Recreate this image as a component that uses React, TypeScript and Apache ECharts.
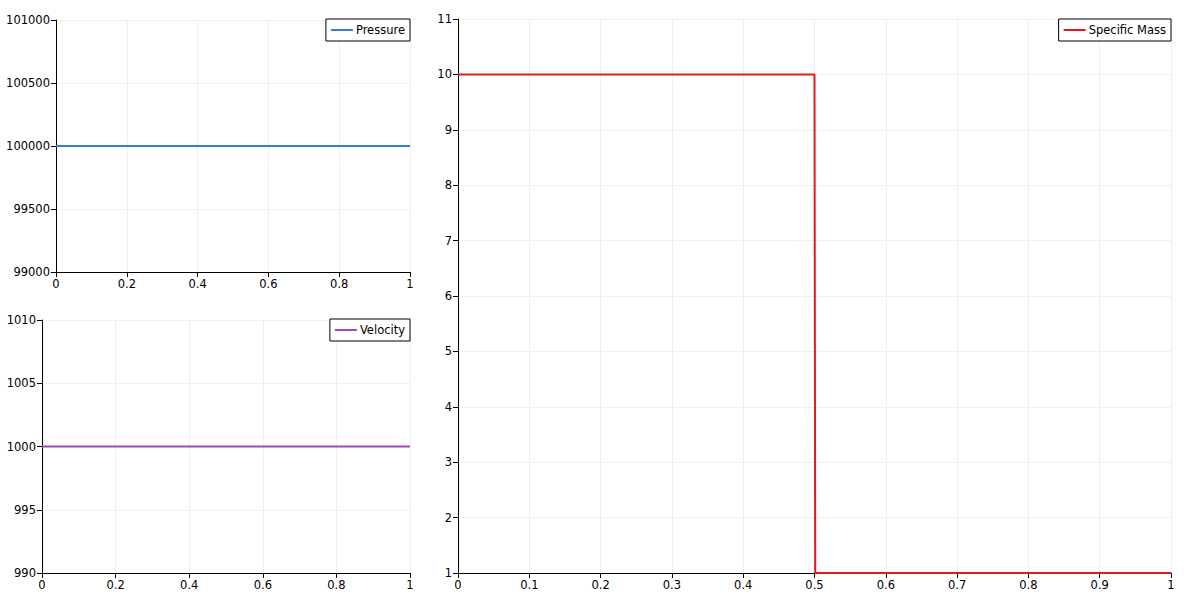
import React, { useEffect, useRef } from "react";
import * as echarts from "echarts";

const positions = [0, 0.5, 0.501, 1];
const pressure = [100000, 100000, 100000, 100000];
const velocity = [1000, 1000, 1000, 1000];
const specificMass = [10, 10, 1, 1];

const FONT = "DejaVu Sans";
const FS = 11.5;

function axisX(gridIndex: number, interval: number) {
  return {
    type: "value",
    gridIndex,
    min: 0,
    max: 1,
    interval,
    axisLine: { show: true, onZero: false, lineStyle: { color: "#000", width: 1 } },
    axisTick: { show: true, length: 5, lineStyle: { color: "#000" } },
    axisLabel: {
      color: "#000",
      fontFamily: FONT,
      fontSize: FS,
      margin: 6,
      showMaxLabel: true,
      showMinLabel: true,
      formatter: (v: number) => String(Math.round(v * 10) / 10),
    },
    splitLine: { show: true, lineStyle: { color: "#efefef", width: 1 } },
  };
}

function axisY(gridIndex: number, min: number, max: number, interval: number) {
  return {
    type: "value",
    gridIndex,
    min,
    max,
    interval,
    axisLine: { show: true, onZero: false, lineStyle: { color: "#000", width: 1 } },
    axisTick: { show: true, length: 5, lineStyle: { color: "#000" } },
    axisLabel: {
      color: "#000",
      fontFamily: FONT,
      fontSize: FS,
      margin: 6,
      formatter: (v: number) => String(v),
    },
    splitLine: { show: true, lineStyle: { color: "#efefef", width: 1 } },
  };
}

function legend(name: string, right: number, top: number) {
  return {
    data: [name],
    right,
    top,
    orient: "horizontal",
    icon: "rect",
    itemWidth: 22,
    itemHeight: 2,
    itemGap: 4,
    padding: [5, 5, 5, 5],
    borderColor: "#000",
    borderWidth: 1,
    borderRadius: 0,
    backgroundColor: "#fff",
    selectedMode: false,
    textStyle: { color: "#000", fontFamily: FONT, fontSize: FS, padding: [0, 0, 0, -2] },
  };
}

export default function App() {
  const ref = useRef<HTMLDivElement>(null);
  useEffect(() => {
    if (!ref.current) return;
    const chart = echarts.init(ref.current, undefined, { renderer: "svg" });
    const pts = (ys: number[]) => positions.map((x, i) => [x, ys[i]]);
    chart.setOption({
      animation: false,
      backgroundColor: "#fff",
      grid: [
        { left: 56, top: 20, width: 354, height: 252 },
        { left: 42, top: 320, width: 368, height: 253 },
        { left: 458, top: 19, width: 713, height: 554 },
      ],
      xAxis: [axisX(0, 0.2), axisX(1, 0.2), axisX(2, 0.1)],
      yAxis: [
        axisY(0, 99000, 101000, 500),
        axisY(1, 990, 1010, 5),
        axisY(2, 1, 11, 1),
      ],
      legend: [
        legend("Pressure", 1191 - 410, 19),
        legend("Velocity", 1191 - 410, 319),
        legend("Specific Mass", 1191 - 1171, 19),
      ],
      series: [
        {
          name: "Pressure",
          type: "line",
          xAxisIndex: 0,
          yAxisIndex: 0,
          data: pts(pressure),
          showSymbol: false,
          symbol: "none",
          color: "#3b7dcc",
          lineStyle: { width: 2, color: "#3b7dcc" },
        },
        {
          name: "Velocity",
          type: "line",
          xAxisIndex: 1,
          yAxisIndex: 1,
          data: pts(velocity),
          showSymbol: false,
          symbol: "none",
          color: "#a245c2",
          lineStyle: { width: 2, color: "#a245c2" },
        },
        {
          name: "Specific Mass",
          type: "line",
          xAxisIndex: 2,
          yAxisIndex: 2,
          data: pts(specificMass),
          showSymbol: false,
          symbol: "none",
          color: "#e8161e",
          lineStyle: { width: 2, color: "#e8161e" },
        },
      ],
    });
    return () => chart.dispose();
  }, []);
  return (
    <div
      ref={ref}
      style={{ position: "absolute", left: 0, top: 0, width: 1191, height: 600 }}
    />
  );
}
